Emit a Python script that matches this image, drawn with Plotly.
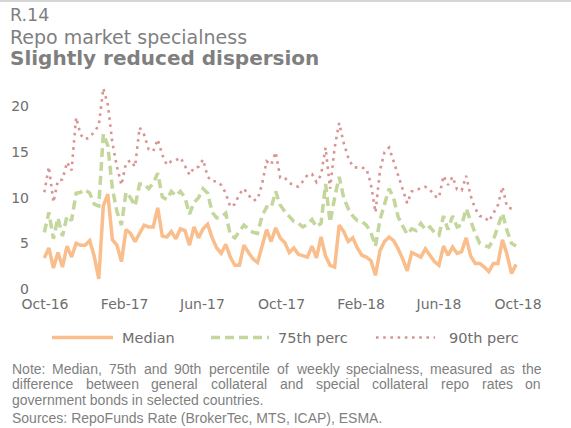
import pandas as pd
import plotly.graph_objects as go

# Weekly observations, Oct 2016 - Sep 2018
weeks = pd.date_range("2016-09-30", periods=105, freq="7D")

median = [
    3.4, 4.5, 2.3, 4.0, 2.4, 4.7, 3.5, 5.0, 4.8, 4.8,
    5.3, 3.6, 1.1, 9.1, 10.4, 5.4, 4.8, 3.0, 6.5, 6.1,
    5.2, 6.2, 7.0, 6.8, 6.8, 8.9, 5.8, 5.7, 6.3, 5.5,
    6.6, 6.4, 4.8, 6.8, 5.6, 6.6, 7.1, 5.6, 4.5, 3.9,
    4.9, 3.5, 2.6, 2.6, 4.8, 4.0, 3.3, 2.9, 4.7, 6.5,
    5.2, 6.7, 5.6, 5.1, 4.0, 4.5, 3.8, 3.6, 3.5, 4.7,
    3.4, 5.7, 3.6, 2.6, 2.4, 7.0, 6.3, 5.2, 5.6, 4.5,
    3.7, 3.5, 3.1, 1.5, 4.2, 5.2, 5.7, 5.3, 4.4, 3.3,
    2.0, 4.0, 3.8, 3.5, 4.4, 3.7, 3.0, 2.6, 4.7, 3.7,
    4.6, 3.9, 4.1, 5.6, 3.6, 2.8, 2.8, 2.4, 1.9, 2.8,
    2.8, 5.4, 3.8, 1.7, 2.7,
]

perc75 = [
    6.2, 8.4, 5.5, 7.8, 5.8, 8.0, 7.5, 10.5, 10.6, 10.9,
    10.5, 9.3, 9.1, 17.0, 15.7, 11.0, 8.5, 7.0, 10.6, 10.0,
    9.1, 11.5, 11.5, 11.0, 11.6, 12.7, 10.1, 9.8, 10.7, 10.2,
    10.7, 10.0, 8.2, 9.5, 10.0, 11.0, 10.5, 8.4, 7.8, 7.9,
    8.3, 5.9, 5.6, 6.3, 7.0, 6.6, 6.2, 6.1, 8.0, 9.0,
    8.9, 10.7, 9.2, 8.5, 7.9, 7.4, 7.2, 6.8, 7.1, 7.6,
    6.8, 7.2, 11.5, 7.3, 10.0, 12.3, 10.0, 8.8, 8.0, 7.5,
    7.4, 7.0, 6.2, 4.7, 7.6, 9.4, 11.0, 10.0, 7.9, 6.9,
    6.0, 6.6, 6.4, 7.2, 6.5, 6.8, 6.2, 5.9, 8.0, 6.5,
    8.0, 6.8, 7.0, 8.8, 7.4, 6.1, 5.0, 4.8, 4.6, 5.4,
    6.8, 8.3, 6.4, 5.0, 4.7,
]

perc90 = [
    10.6, 13.4, 9.5, 11.9, 12.0, 13.9, 13.0, 18.8, 16.9, 16.4,
    16.6, 17.2, 17.9, 22.0, 20.2, 16.0, 13.4, 11.4, 13.8, 14.1,
    13.4, 17.7, 16.9, 15.3, 15.1, 16.4, 14.7, 13.6, 14.0, 14.1,
    14.4, 13.5, 12.5, 13.3, 13.4, 14.2, 12.3, 11.8, 11.8, 11.4,
    10.5, 9.0, 9.3, 10.4, 11.0, 10.3, 9.7, 9.8, 11.5, 14.0,
    13.6, 15.0, 12.2, 12.2, 11.6, 11.4, 11.2, 11.8, 12.5, 12.6,
    11.7, 12.5, 15.5, 11.0, 15.5, 18.2, 16.0, 14.4, 13.4, 13.3,
    13.3, 13.2, 11.5, 8.4, 13.0, 15.0, 15.5, 14.0, 12.4, 11.0,
    9.4, 10.7, 10.8, 11.1, 11.2, 10.9, 10.2, 10.0, 12.4, 11.4,
    12.3, 10.9, 10.8, 12.4, 10.2, 8.8, 8.0, 7.9, 7.4, 8.3,
    9.2, 11.2, 9.0, 8.8, 8.8,
]

series_names = ["Median", "75th perc", "90th perc"]
x_tick_dates = ["2016-10-01", "2017-02-01", "2017-06-01", "2017-10-01",
                "2018-02-01", "2018-06-01", "2018-10-01"]
y_tick_values = [0, 5, 10, 15, 20]

title_lines = ["R.14", "Repo market specialness", "Slightly reduced dispersion"]
note_lines = [
    "Note: Median, 75th and 90th percentile of weekly specialness, measured as the",
    "difference between general collateral and special collateral repo rates on",
    "government bonds in selected countries.",
    "Sources: RepoFunds Rate (BrokerTec, MTS, ICAP), ESMA.",
]

ORANGE = "#F9BE8C"
GREEN = "#C3D69B"
RED = "#D99393"
GREY = "#7F7F7F"
TICK_GREY = "#6E6E6E"
CHART_FONT = "DejaVu Sans"
NOTE_FONT = "Liberation Sans"

W, H = 571, 428
L, R, T, B = 38, 528, 84, 289  # plot area in pixels


def px(x):
    return (x - L) / (R - L)


def py(y):
    return (B - y) / (B - T)


styles = [
    dict(color=ORANGE, width=3.5),
    dict(color=GREEN, width=3.5, dash="9px,5px"),
    dict(color=RED, width=2.6, dash="2.6px,4.6px"),
]

fig = go.Figure()
for name, vals, st in zip(series_names, [median, perc75, perc90], styles):
    fig.add_trace(go.Scatter(x=weeks, y=vals, mode="lines", name=name,
                             line=st, showlegend=False, hoverinfo="skip"))

annotations = []
shapes = []

# Header
title_specs = [
    (title_lines[0], 15.5, 17.5, False),
    (title_lines[1], 36.5, 19, False),
    (title_lines[2], 58.5, 20, True),
]
for text, yc, size, bold in title_specs:
    annotations.append(dict(
        x=px(8), y=py(yc), xref="paper", yref="paper", xanchor="left",
        yanchor="middle", showarrow=False,
        text=f"<b>{text}</b>" if bold else text,
        font=dict(family=CHART_FONT, size=size, color=GREY)))

shapes.append(dict(type="line", xref="paper", yref="paper",
                   x0=px(0), x1=px(W), y0=py(1), y1=py(1),
                   line=dict(color="#C8C8C8", width=1.5)))

# Legend drawn by hand to control sample lengths
legend_y = 337.5
legend_items = [(52, 113, 120), (211, 269, 276), (376, 435, 447)]
for (x0, x1, xt), name, st in zip(legend_items, series_names, styles):
    shapes.append(dict(type="line", xref="paper", yref="paper",
                       x0=px(x0), x1=px(x1), y0=py(legend_y), y1=py(legend_y),
                       line=st))
    annotations.append(dict(
        x=px(xt), y=py(legend_y + 0.5), xref="paper", yref="paper",
        xanchor="left", yanchor="middle", showarrow=False, text=name,
        font=dict(family=CHART_FONT, size=14.5, color=TICK_GREY)))

# Notes: Arial-metric widths so justified lines can be laid out word by word
ARIAL = {
    " ": 278, "(": 333, ")": 333, ",": 278, "-": 333, ".": 278, ":": 278,
    "A": 667, "B": 667, "C": 722, "E": 667, "F": 611, "I": 278, "M": 833,
    "N": 722, "P": 667, "R": 722, "S": 667, "T": 611,
    "a": 556, "b": 556, "c": 500, "d": 556, "e": 556, "f": 278, "g": 556,
    "h": 556, "i": 222, "k": 500, "l": 222, "m": 833, "n": 556, "o": 556,
    "p": 556, "r": 333, "s": 500, "t": 278, "u": 556, "v": 500, "w": 722,
    "y": 500,
}
NOTE_SIZE = 14


def text_width(s):
    return sum(ARIAL.get(ch, 556) for ch in s) * NOTE_SIZE / 1000.0


note_left, note_right = 10.5, 540
note_centers = [368.5, 384.2, 399.8, 417.5]
for idx, (line, yc) in enumerate(zip(note_lines, note_centers)):
    justify = idx < 2
    words = line.split(" ")
    if justify:
        widths = [text_width(w) for w in words]
        gap = (note_right - note_left - sum(widths)) / (len(words) - 1)
        xpos = note_left
        for w, wd in zip(words, widths):
            annotations.append(dict(
                x=px(xpos), y=py(yc), xref="paper", yref="paper",
                xanchor="left", yanchor="middle", showarrow=False, text=w,
                borderpad=0,
                font=dict(family=NOTE_FONT, size=NOTE_SIZE, color=GREY)))
            xpos += wd + gap
    else:
        annotations.append(dict(
            x=px(note_left), y=py(yc), xref="paper", yref="paper",
            xanchor="left", yanchor="middle", showarrow=False, text=line,
            borderpad=0,
            font=dict(family=NOTE_FONT, size=NOTE_SIZE, color=GREY)))

fig.update_layout(
    width=W, height=H,
    margin=dict(l=L, r=W - R, t=T, b=H - B, pad=0),
    paper_bgcolor="white", plot_bgcolor="white",
    showlegend=False,
    annotations=annotations, shapes=shapes,
    xaxis=dict(
        type="date",
        range=["2016-09-20 05:00", "2018-10-16 10:00"],
        tickvals=x_tick_dates, tickformat="%b-%y",
        showgrid=False, zeroline=False, showline=False, ticks="",
        ticklabelstandoff=5,
        tickfont=dict(family=CHART_FONT, size=14, color=TICK_GREY),
    ),
    yaxis=dict(
        range=[0, (B - T) / 9.125],
        tickvals=y_tick_values,
        showgrid=False, zeroline=False, showline=False, ticks="",
        ticklabelstandoff=8,
        tickfont=dict(family=CHART_FONT, size=14, color=TICK_GREY),
    ),
)

fig.write_html("out.html")
